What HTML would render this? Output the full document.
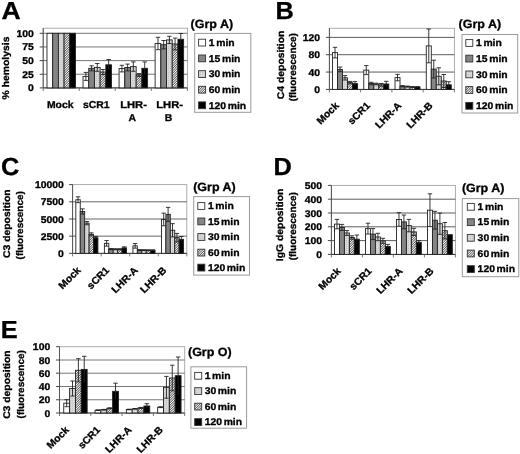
<!DOCTYPE html>
<html lang="en"><head><meta charset="utf-8"><title>Figure</title>
<style>html,body{margin:0;padding:0;background:#fff;}svg{display:block;filter:blur(0.35px);}text{font-family:"Liberation Sans", sans-serif;font-weight:bold;fill:#000;stroke:#000;stroke-width:0.3px;text-rendering:geometricPrecision;}</style></head><body>
<svg width="520" height="454" viewBox="0 0 520 454">
<defs><pattern id="hatch" patternUnits="userSpaceOnUse" width="1.7" height="1.7" patternTransform="rotate(-45)"><rect width="1.7" height="1.7" fill="#fff"/><rect width="1.7" height="0.72" fill="#3a3a3a"/></pattern><pattern id="dots" patternUnits="userSpaceOnUse" width="2" height="2"><rect width="2" height="2" fill="#d8d8d8"/><rect width="1" height="1" fill="#c4c4c4"/></pattern></defs>
<rect width="520" height="454" fill="#fff"/>
<g id="panel-A">
<rect x="43.20" y="28.20" width="144.20" height="59.70" fill="#fff" stroke="#a4a4a4" stroke-width="0.9"/>
<line x1="43.20" y1="33.30" x2="187.40" y2="33.30" stroke="#666" stroke-width="0.9"/>
<line x1="43.20" y1="46.95" x2="187.40" y2="46.95" stroke="#666" stroke-width="0.9"/>
<line x1="43.20" y1="60.60" x2="187.40" y2="60.60" stroke="#666" stroke-width="0.9"/>
<line x1="43.20" y1="74.25" x2="187.40" y2="74.25" stroke="#666" stroke-width="0.9"/>
<line x1="43.20" y1="28.20" x2="43.20" y2="87.90" stroke="#555" stroke-width="1"/>
<line x1="43.20" y1="87.90" x2="187.40" y2="87.90" stroke="#333" stroke-width="1"/>
<line x1="39.70" y1="33.30" x2="43.20" y2="33.30" stroke="#333" stroke-width="0.9"/>
<text transform="translate(33.90,36.80) scale(1.06,1)" font-size="9.8" text-anchor="end" >100</text>
<line x1="39.70" y1="46.95" x2="43.20" y2="46.95" stroke="#333" stroke-width="0.9"/>
<text transform="translate(33.90,50.45) scale(1.06,1)" font-size="9.8" text-anchor="end" >75</text>
<line x1="39.70" y1="60.60" x2="43.20" y2="60.60" stroke="#333" stroke-width="0.9"/>
<text transform="translate(33.90,64.10) scale(1.06,1)" font-size="9.8" text-anchor="end" >50</text>
<line x1="39.70" y1="74.25" x2="43.20" y2="74.25" stroke="#333" stroke-width="0.9"/>
<text transform="translate(33.90,77.75) scale(1.06,1)" font-size="9.8" text-anchor="end" >25</text>
<line x1="39.70" y1="87.90" x2="43.20" y2="87.90" stroke="#333" stroke-width="0.9"/>
<text transform="translate(33.90,91.40) scale(1.06,1)" font-size="9.8" text-anchor="end" >0</text>
<line x1="43.20" y1="87.90" x2="43.20" y2="90.90" stroke="#555" stroke-width="0.8"/>
<line x1="79.25" y1="87.90" x2="79.25" y2="90.90" stroke="#555" stroke-width="0.8"/>
<line x1="115.30" y1="87.90" x2="115.30" y2="90.90" stroke="#555" stroke-width="0.8"/>
<line x1="151.35" y1="87.90" x2="151.35" y2="90.90" stroke="#555" stroke-width="0.8"/>
<line x1="187.40" y1="87.90" x2="187.40" y2="90.90" stroke="#555" stroke-width="0.8"/>
<rect x="46.98" y="33.30" width="5.70" height="54.60" fill="#ffffff" stroke="#222" stroke-width="0.9"/>
<rect x="52.68" y="33.30" width="5.70" height="54.60" fill="#858585" stroke="#222" stroke-width="0.9"/>
<rect x="58.38" y="33.30" width="5.70" height="54.60" fill="url(#dots)" stroke="#222" stroke-width="0.9"/>
<rect x="64.08" y="33.30" width="5.70" height="54.60" fill="url(#hatch)" stroke="#222" stroke-width="0.9"/>
<rect x="69.78" y="33.30" width="5.70" height="54.60" fill="#000000" stroke="#222" stroke-width="0.9"/>
<rect x="83.03" y="76.40" width="5.70" height="11.50" fill="#ffffff" stroke="#222" stroke-width="0.9"/>
<rect x="88.73" y="68.30" width="5.70" height="19.60" fill="#858585" stroke="#222" stroke-width="0.9"/>
<rect x="94.43" y="67.40" width="5.70" height="20.50" fill="url(#dots)" stroke="#222" stroke-width="0.9"/>
<rect x="100.12" y="72.00" width="5.70" height="15.90" fill="url(#hatch)" stroke="#222" stroke-width="0.9"/>
<rect x="105.83" y="64.80" width="5.70" height="23.10" fill="#000000" stroke="#222" stroke-width="0.9"/>
<path d="M85.88 72.40V80.40M83.67 72.40H88.08" stroke="#222" stroke-width="0.9" fill="none"/>
<path d="M83.67 80.40H88.08" stroke="#222" stroke-width="0.9" fill="none"/>
<path d="M91.58 65.80V70.80M89.38 65.80H93.78" stroke="#222" stroke-width="0.9" fill="none"/>
<path d="M89.38 70.80H93.78" stroke="#222" stroke-width="0.9" fill="none"/>
<path d="M97.28 63.50V71.30M95.08 63.50H99.48" stroke="#222" stroke-width="0.9" fill="none"/>
<path d="M95.08 71.30H99.48" stroke="#222" stroke-width="0.9" fill="none"/>
<path d="M102.97 69.50V74.50M100.77 69.50H105.17" stroke="#222" stroke-width="0.9" fill="none"/>
<path d="M100.77 74.50H105.17" stroke="#222" stroke-width="0.9" fill="none"/>
<path d="M108.67 59.50V70.10M106.47 59.50H110.88" stroke="#222" stroke-width="0.9" fill="none"/>
<rect x="119.07" y="68.60" width="5.70" height="19.30" fill="#ffffff" stroke="#222" stroke-width="0.9"/>
<rect x="124.77" y="67.50" width="5.70" height="20.40" fill="#858585" stroke="#222" stroke-width="0.9"/>
<rect x="130.47" y="66.60" width="5.70" height="21.30" fill="url(#dots)" stroke="#222" stroke-width="0.9"/>
<rect x="136.17" y="75.00" width="5.70" height="12.90" fill="url(#hatch)" stroke="#222" stroke-width="0.9"/>
<rect x="141.88" y="68.30" width="5.70" height="19.60" fill="#000000" stroke="#222" stroke-width="0.9"/>
<path d="M121.92 65.30V71.90M119.72 65.30H124.12" stroke="#222" stroke-width="0.9" fill="none"/>
<path d="M119.72 71.90H124.12" stroke="#222" stroke-width="0.9" fill="none"/>
<path d="M127.62 64.10V70.90M125.42 64.10H129.82" stroke="#222" stroke-width="0.9" fill="none"/>
<path d="M125.42 70.90H129.82" stroke="#222" stroke-width="0.9" fill="none"/>
<path d="M133.32 61.90V71.30M131.12 61.90H135.52" stroke="#222" stroke-width="0.9" fill="none"/>
<path d="M131.12 71.30H135.52" stroke="#222" stroke-width="0.9" fill="none"/>
<path d="M139.02 73.60V76.40M136.82 73.60H141.22" stroke="#222" stroke-width="0.9" fill="none"/>
<path d="M136.82 76.40H141.22" stroke="#222" stroke-width="0.9" fill="none"/>
<path d="M144.72 61.90V74.70M142.53 61.90H146.92" stroke="#222" stroke-width="0.9" fill="none"/>
<rect x="155.12" y="43.50" width="5.70" height="44.40" fill="#ffffff" stroke="#222" stroke-width="0.9"/>
<rect x="160.82" y="44.70" width="5.70" height="43.20" fill="#858585" stroke="#222" stroke-width="0.9"/>
<rect x="166.53" y="39.90" width="5.70" height="48.00" fill="url(#dots)" stroke="#222" stroke-width="0.9"/>
<rect x="172.22" y="44.00" width="5.70" height="43.90" fill="url(#hatch)" stroke="#222" stroke-width="0.9"/>
<rect x="177.93" y="39.30" width="5.70" height="48.60" fill="#000000" stroke="#222" stroke-width="0.9"/>
<path d="M157.97 37.30V49.70M155.78 37.30H160.17" stroke="#222" stroke-width="0.9" fill="none"/>
<path d="M155.78 49.70H160.17" stroke="#222" stroke-width="0.9" fill="none"/>
<path d="M163.67 40.50V48.90M161.47 40.50H165.87" stroke="#222" stroke-width="0.9" fill="none"/>
<path d="M161.47 48.90H165.87" stroke="#222" stroke-width="0.9" fill="none"/>
<path d="M169.38 36.30V43.50M167.18 36.30H171.57" stroke="#222" stroke-width="0.9" fill="none"/>
<path d="M167.18 43.50H171.57" stroke="#222" stroke-width="0.9" fill="none"/>
<path d="M175.07 38.10V49.90M172.88 38.10H177.27" stroke="#222" stroke-width="0.9" fill="none"/>
<path d="M172.88 49.90H177.27" stroke="#222" stroke-width="0.9" fill="none"/>
<path d="M180.78 33.50V45.10M178.58 33.50H182.97" stroke="#222" stroke-width="0.9" fill="none"/>
<text transform="translate(60.23,107.60) scale(1.04,1)" font-size="10" text-anchor="middle" >Mock</text>
<text transform="translate(96.28,107.60) scale(1.04,1)" font-size="10" text-anchor="middle" >sCR1</text>
<text transform="translate(133.52,107.60) scale(1.12,1)" font-size="10" text-anchor="middle" >LHR-</text>
<text transform="translate(132.32,121.10) scale(1.04,1)" font-size="10" text-anchor="middle" >A</text>
<text transform="translate(169.57,107.60) scale(1.12,1)" font-size="10" text-anchor="middle" >LHR-</text>
<text transform="translate(168.38,121.10) scale(1.04,1)" font-size="10" text-anchor="middle" >B</text>
<text transform="translate(9.30,68.00) rotate(-90) scale(1.07,1)" font-size="9.7" text-anchor="middle" >% hemolysis</text>
<text transform="translate(1.40,19.30) scale(1.08,1)" font-size="24.6" text-anchor="start" >A</text>
<text transform="translate(190.60,28.00) scale(1.04,1)" font-size="12" text-anchor="start" >(Grp A)</text>
<rect x="194.70" y="33.40" width="56.10" height="78.90" fill="#fff" stroke="#9a9a9a" stroke-width="1"/>
<rect x="198.60" y="39.20" width="7" height="6.8" fill="#ffffff" stroke="#333" stroke-width="0.9"/>
<text transform="translate(208.80,45.80) scale(1.06,1)" font-size="9.8" text-anchor="start" word-spacing="-1.2">1 min</text>
<rect x="198.60" y="55.00" width="7" height="6.8" fill="#858585" stroke="#333" stroke-width="0.9"/>
<text transform="translate(208.80,61.60) scale(1.06,1)" font-size="9.8" text-anchor="start" word-spacing="-1.2">15 min</text>
<rect x="198.60" y="70.70" width="7" height="6.8" fill="url(#dots)" stroke="#333" stroke-width="0.9"/>
<text transform="translate(208.80,77.30) scale(1.06,1)" font-size="9.8" text-anchor="start" word-spacing="-1.2">30 min</text>
<rect x="198.60" y="86.30" width="7" height="6.8" fill="url(#hatch)" stroke="#333" stroke-width="0.9"/>
<text transform="translate(208.80,92.90) scale(1.06,1)" font-size="9.8" text-anchor="start" word-spacing="-1.2">60 min</text>
<rect x="198.60" y="101.90" width="7" height="6.8" fill="#000000" stroke="#333" stroke-width="0.9"/>
<text transform="translate(208.80,108.50) scale(1.06,1)" font-size="9.8" text-anchor="start" word-spacing="-1.2">120 min</text>
</g>
<g id="panel-B">
<rect x="329.40" y="28.30" width="125.00" height="61.10" fill="#fff" stroke="#a4a4a4" stroke-width="0.9"/>
<line x1="329.40" y1="37.40" x2="454.40" y2="37.40" stroke="#4a4a4a" stroke-width="0.9"/>
<line x1="329.40" y1="54.70" x2="454.40" y2="54.70" stroke="#4a4a4a" stroke-width="0.9"/>
<line x1="329.40" y1="72.05" x2="454.40" y2="72.05" stroke="#4a4a4a" stroke-width="0.9"/>
<line x1="329.40" y1="28.30" x2="329.40" y2="89.40" stroke="#555" stroke-width="1"/>
<line x1="329.40" y1="89.40" x2="454.40" y2="89.40" stroke="#333" stroke-width="1"/>
<line x1="325.90" y1="37.40" x2="329.40" y2="37.40" stroke="#333" stroke-width="0.9"/>
<text transform="translate(320.10,40.90) scale(1.06,1)" font-size="9.8" text-anchor="end" >120</text>
<line x1="325.90" y1="54.70" x2="329.40" y2="54.70" stroke="#333" stroke-width="0.9"/>
<text transform="translate(320.10,58.20) scale(1.06,1)" font-size="9.8" text-anchor="end" >80</text>
<line x1="325.90" y1="72.05" x2="329.40" y2="72.05" stroke="#333" stroke-width="0.9"/>
<text transform="translate(320.10,75.55) scale(1.06,1)" font-size="9.8" text-anchor="end" >40</text>
<line x1="325.90" y1="89.40" x2="329.40" y2="89.40" stroke="#333" stroke-width="0.9"/>
<text transform="translate(320.10,92.90) scale(1.06,1)" font-size="9.8" text-anchor="end" >0</text>
<line x1="329.40" y1="89.40" x2="329.40" y2="92.40" stroke="#555" stroke-width="0.8"/>
<line x1="360.65" y1="89.40" x2="360.65" y2="92.40" stroke="#555" stroke-width="0.8"/>
<line x1="391.90" y1="89.40" x2="391.90" y2="92.40" stroke="#555" stroke-width="0.8"/>
<line x1="423.15" y1="89.40" x2="423.15" y2="92.40" stroke="#555" stroke-width="0.8"/>
<line x1="454.40" y1="89.40" x2="454.40" y2="92.40" stroke="#555" stroke-width="0.8"/>
<rect x="332.52" y="52.60" width="5.00" height="36.80" fill="#ffffff" stroke="#222" stroke-width="0.9"/>
<rect x="337.52" y="69.40" width="5.00" height="20.00" fill="#858585" stroke="#222" stroke-width="0.9"/>
<rect x="342.52" y="77.80" width="5.00" height="11.60" fill="url(#dots)" stroke="#222" stroke-width="0.9"/>
<rect x="347.52" y="82.60" width="5.00" height="6.80" fill="url(#hatch)" stroke="#222" stroke-width="0.9"/>
<rect x="352.52" y="83.60" width="5.00" height="5.80" fill="#000000" stroke="#222" stroke-width="0.9"/>
<path d="M335.02 47.30V57.90M332.82 47.30H337.22" stroke="#222" stroke-width="0.9" fill="none"/>
<path d="M332.82 57.90H337.22" stroke="#222" stroke-width="0.9" fill="none"/>
<path d="M340.02 67.10V71.70M337.82 67.10H342.22" stroke="#222" stroke-width="0.9" fill="none"/>
<path d="M337.82 71.70H342.22" stroke="#222" stroke-width="0.9" fill="none"/>
<path d="M345.02 75.60V80.00M342.82 75.60H347.22" stroke="#222" stroke-width="0.9" fill="none"/>
<path d="M342.82 80.00H347.22" stroke="#222" stroke-width="0.9" fill="none"/>
<path d="M350.02 81.40V83.80M347.82 81.40H352.22" stroke="#222" stroke-width="0.9" fill="none"/>
<path d="M347.82 83.80H352.22" stroke="#222" stroke-width="0.9" fill="none"/>
<path d="M355.02 81.60V85.60M352.82 81.60H357.22" stroke="#222" stroke-width="0.9" fill="none"/>
<rect x="363.77" y="70.10" width="5.00" height="19.30" fill="#ffffff" stroke="#222" stroke-width="0.9"/>
<rect x="368.77" y="83.50" width="5.00" height="5.90" fill="#858585" stroke="#222" stroke-width="0.9"/>
<rect x="373.77" y="84.00" width="5.00" height="5.40" fill="url(#dots)" stroke="#222" stroke-width="0.9"/>
<rect x="378.77" y="84.80" width="5.00" height="4.60" fill="url(#hatch)" stroke="#222" stroke-width="0.9"/>
<rect x="383.77" y="84.00" width="5.00" height="5.40" fill="#000000" stroke="#222" stroke-width="0.9"/>
<path d="M366.27 65.60V74.60M364.07 65.60H368.47" stroke="#222" stroke-width="0.9" fill="none"/>
<path d="M364.07 74.60H368.47" stroke="#222" stroke-width="0.9" fill="none"/>
<path d="M371.27 82.30V84.70M369.07 82.30H373.47" stroke="#222" stroke-width="0.9" fill="none"/>
<path d="M369.07 84.70H373.47" stroke="#222" stroke-width="0.9" fill="none"/>
<path d="M376.27 83.20V84.80M374.07 83.20H378.47" stroke="#222" stroke-width="0.9" fill="none"/>
<path d="M374.07 84.80H378.47" stroke="#222" stroke-width="0.9" fill="none"/>
<path d="M381.27 83.50V86.10M379.07 83.50H383.47" stroke="#222" stroke-width="0.9" fill="none"/>
<path d="M379.07 86.10H383.47" stroke="#222" stroke-width="0.9" fill="none"/>
<path d="M386.27 81.30V86.70M384.07 81.30H388.47" stroke="#222" stroke-width="0.9" fill="none"/>
<rect x="395.02" y="77.60" width="5.00" height="11.80" fill="#ffffff" stroke="#222" stroke-width="0.9"/>
<rect x="400.02" y="86.20" width="5.00" height="3.20" fill="#858585" stroke="#222" stroke-width="0.9"/>
<rect x="405.02" y="86.60" width="5.00" height="2.80" fill="url(#dots)" stroke="#222" stroke-width="0.9"/>
<rect x="410.02" y="87.00" width="5.00" height="2.40" fill="url(#hatch)" stroke="#222" stroke-width="0.9"/>
<rect x="415.02" y="87.00" width="5.00" height="2.40" fill="#000000" stroke="#222" stroke-width="0.9"/>
<path d="M397.52 74.40V80.80M395.32 74.40H399.72" stroke="#222" stroke-width="0.9" fill="none"/>
<path d="M395.32 80.80H399.72" stroke="#222" stroke-width="0.9" fill="none"/>
<path d="M402.52 85.60V86.80M400.32 85.60H404.72" stroke="#222" stroke-width="0.9" fill="none"/>
<path d="M400.32 86.80H404.72" stroke="#222" stroke-width="0.9" fill="none"/>
<path d="M407.52 86.10V87.10M405.32 86.10H409.72" stroke="#222" stroke-width="0.9" fill="none"/>
<path d="M405.32 87.10H409.72" stroke="#222" stroke-width="0.9" fill="none"/>
<path d="M412.52 86.60V87.40M410.32 86.60H414.72" stroke="#222" stroke-width="0.9" fill="none"/>
<path d="M410.32 87.40H414.72" stroke="#222" stroke-width="0.9" fill="none"/>
<path d="M417.52 86.60V87.40M415.32 86.60H419.72" stroke="#222" stroke-width="0.9" fill="none"/>
<rect x="426.27" y="45.90" width="5.00" height="43.50" fill="#ffffff" stroke="#222" stroke-width="0.9"/>
<rect x="431.27" y="69.10" width="5.00" height="20.30" fill="#858585" stroke="#222" stroke-width="0.9"/>
<rect x="436.27" y="76.30" width="5.00" height="13.10" fill="url(#dots)" stroke="#222" stroke-width="0.9"/>
<rect x="441.27" y="81.00" width="5.00" height="8.40" fill="url(#hatch)" stroke="#222" stroke-width="0.9"/>
<rect x="446.27" y="84.80" width="5.00" height="4.60" fill="#000000" stroke="#222" stroke-width="0.9"/>
<path d="M428.77 29.00V62.80M426.57 29.00H430.97" stroke="#222" stroke-width="0.9" fill="none"/>
<path d="M426.57 62.80H430.97" stroke="#222" stroke-width="0.9" fill="none"/>
<path d="M433.77 60.20V78.00M431.57 60.20H435.97" stroke="#222" stroke-width="0.9" fill="none"/>
<path d="M431.57 78.00H435.97" stroke="#222" stroke-width="0.9" fill="none"/>
<path d="M438.77 67.80V84.80M436.57 67.80H440.97" stroke="#222" stroke-width="0.9" fill="none"/>
<path d="M436.57 84.80H440.97" stroke="#222" stroke-width="0.9" fill="none"/>
<path d="M443.77 74.50V87.50M441.57 74.50H445.97" stroke="#222" stroke-width="0.9" fill="none"/>
<path d="M441.57 87.50H445.97" stroke="#222" stroke-width="0.9" fill="none"/>
<path d="M448.77 81.70V87.90M446.57 81.70H450.97" stroke="#222" stroke-width="0.9" fill="none"/>
<text transform="translate(339.52,106.20) rotate(-45) scale(1.04,1)" font-size="10" text-anchor="end" >Mock</text>
<text transform="translate(370.77,106.20) rotate(-45) scale(1.04,1)" font-size="10" text-anchor="end" >sCR1</text>
<text transform="translate(402.02,106.20) rotate(-45) scale(1.04,1)" font-size="10" text-anchor="end" >LHR-A</text>
<text transform="translate(433.27,106.20) rotate(-45) scale(1.04,1)" font-size="10" text-anchor="end" >LHR-B</text>
<text transform="translate(283.60,64.90) rotate(-90) scale(1.07,1)" font-size="9.7" text-anchor="middle" >C4 deposition</text>
<text transform="translate(296.40,67.20) rotate(-90) scale(1.03,1)" font-size="9.7" text-anchor="middle" >(fluorescence)</text>
<text transform="translate(275.50,18.60) scale(1.03,1)" font-size="24.6" text-anchor="start" >B</text>
<text transform="translate(458.60,27.90) scale(1.04,1)" font-size="12" text-anchor="start" >(Grp A)</text>
<rect x="462.00" y="34.50" width="55.70" height="78.50" fill="#fff" stroke="#9a9a9a" stroke-width="1"/>
<rect x="465.80" y="39.60" width="7" height="6.8" fill="#ffffff" stroke="#333" stroke-width="0.9"/>
<text transform="translate(476.00,46.20) scale(1.06,1)" font-size="9.8" text-anchor="start" word-spacing="-1.2">1 min</text>
<rect x="465.80" y="55.20" width="7" height="6.8" fill="#858585" stroke="#333" stroke-width="0.9"/>
<text transform="translate(476.00,61.80) scale(1.06,1)" font-size="9.8" text-anchor="start" word-spacing="-1.2">15 min</text>
<rect x="465.80" y="71.00" width="7" height="6.8" fill="url(#dots)" stroke="#333" stroke-width="0.9"/>
<text transform="translate(476.00,77.60) scale(1.06,1)" font-size="9.8" text-anchor="start" word-spacing="-1.2">30 min</text>
<rect x="465.80" y="86.60" width="7" height="6.8" fill="url(#hatch)" stroke="#333" stroke-width="0.9"/>
<text transform="translate(476.00,93.20) scale(1.06,1)" font-size="9.8" text-anchor="start" word-spacing="-1.2">60 min</text>
<rect x="465.80" y="102.40" width="7" height="6.8" fill="#000000" stroke="#333" stroke-width="0.9"/>
<text transform="translate(476.00,109.00) scale(1.06,1)" font-size="9.8" text-anchor="start" word-spacing="-1.2">120 min</text>
</g>
<g id="panel-C">
<rect x="72.60" y="184.60" width="114.20" height="68.75" fill="#fff" stroke="#a4a4a4" stroke-width="0.9"/>
<line x1="72.60" y1="201.80" x2="186.80" y2="201.80" stroke="#555" stroke-width="0.9"/>
<line x1="72.60" y1="219.00" x2="186.80" y2="219.00" stroke="#555" stroke-width="0.9"/>
<line x1="72.60" y1="236.15" x2="186.80" y2="236.15" stroke="#555" stroke-width="0.9"/>
<line x1="72.60" y1="184.60" x2="72.60" y2="253.35" stroke="#555" stroke-width="1"/>
<line x1="72.60" y1="253.35" x2="186.80" y2="253.35" stroke="#333" stroke-width="1"/>
<line x1="69.10" y1="184.60" x2="72.60" y2="184.60" stroke="#333" stroke-width="0.9"/>
<text transform="translate(63.90,188.10) scale(1.06,1)" font-size="9.8" text-anchor="end" >10000</text>
<line x1="69.10" y1="201.80" x2="72.60" y2="201.80" stroke="#333" stroke-width="0.9"/>
<text transform="translate(63.90,205.30) scale(1.06,1)" font-size="9.8" text-anchor="end" >7500</text>
<line x1="69.10" y1="219.00" x2="72.60" y2="219.00" stroke="#333" stroke-width="0.9"/>
<text transform="translate(63.90,222.50) scale(1.06,1)" font-size="9.8" text-anchor="end" >5000</text>
<line x1="69.10" y1="236.15" x2="72.60" y2="236.15" stroke="#333" stroke-width="0.9"/>
<text transform="translate(63.90,239.65) scale(1.06,1)" font-size="9.8" text-anchor="end" >2500</text>
<line x1="69.10" y1="253.35" x2="72.60" y2="253.35" stroke="#333" stroke-width="0.9"/>
<text transform="translate(63.90,256.85) scale(1.06,1)" font-size="9.8" text-anchor="end" >0</text>
<line x1="72.60" y1="253.35" x2="72.60" y2="256.35" stroke="#555" stroke-width="0.8"/>
<line x1="101.15" y1="253.35" x2="101.15" y2="256.35" stroke="#555" stroke-width="0.8"/>
<line x1="129.70" y1="253.35" x2="129.70" y2="256.35" stroke="#555" stroke-width="0.8"/>
<line x1="158.25" y1="253.35" x2="158.25" y2="256.35" stroke="#555" stroke-width="0.8"/>
<line x1="186.80" y1="253.35" x2="186.80" y2="256.35" stroke="#555" stroke-width="0.8"/>
<rect x="75.83" y="199.75" width="4.42" height="53.60" fill="#ffffff" stroke="#222" stroke-width="0.9"/>
<rect x="80.25" y="211.45" width="4.42" height="41.90" fill="#858585" stroke="#222" stroke-width="0.9"/>
<rect x="84.67" y="223.15" width="4.42" height="30.20" fill="url(#dots)" stroke="#222" stroke-width="0.9"/>
<rect x="89.09" y="234.35" width="4.42" height="19.00" fill="url(#hatch)" stroke="#222" stroke-width="0.9"/>
<rect x="93.50" y="237.75" width="4.42" height="15.60" fill="#000000" stroke="#222" stroke-width="0.9"/>
<path d="M78.03 196.85V202.65M75.83 196.85H80.23" stroke="#222" stroke-width="0.9" fill="none"/>
<path d="M75.83 202.65H80.23" stroke="#222" stroke-width="0.9" fill="none"/>
<path d="M82.45 208.85V214.05M80.25 208.85H84.66" stroke="#222" stroke-width="0.9" fill="none"/>
<path d="M80.25 214.05H84.66" stroke="#222" stroke-width="0.9" fill="none"/>
<path d="M86.88 221.55V224.75M84.67 221.55H89.08" stroke="#222" stroke-width="0.9" fill="none"/>
<path d="M84.67 224.75H89.08" stroke="#222" stroke-width="0.9" fill="none"/>
<path d="M91.30 232.85V235.85M89.09 232.85H93.50" stroke="#222" stroke-width="0.9" fill="none"/>
<path d="M89.09 235.85H93.50" stroke="#222" stroke-width="0.9" fill="none"/>
<path d="M95.71 236.45V239.05M93.51 236.45H97.91" stroke="#222" stroke-width="0.9" fill="none"/>
<rect x="104.38" y="243.35" width="4.42" height="10.00" fill="#ffffff" stroke="#222" stroke-width="0.9"/>
<rect x="108.80" y="249.05" width="4.42" height="4.30" fill="#858585" stroke="#222" stroke-width="0.9"/>
<rect x="113.22" y="249.25" width="4.42" height="4.10" fill="url(#dots)" stroke="#222" stroke-width="0.9"/>
<rect x="117.64" y="249.25" width="4.42" height="4.10" fill="url(#hatch)" stroke="#222" stroke-width="0.9"/>
<rect x="122.06" y="247.85" width="4.42" height="5.50" fill="#000000" stroke="#222" stroke-width="0.9"/>
<path d="M106.58 240.55V246.15M104.38 240.55H108.78" stroke="#222" stroke-width="0.9" fill="none"/>
<path d="M104.38 246.15H108.78" stroke="#222" stroke-width="0.9" fill="none"/>
<path d="M111.00 248.55V249.55M108.80 248.55H113.20" stroke="#222" stroke-width="0.9" fill="none"/>
<path d="M108.80 249.55H113.20" stroke="#222" stroke-width="0.9" fill="none"/>
<path d="M115.42 248.75V249.75M113.22 248.75H117.62" stroke="#222" stroke-width="0.9" fill="none"/>
<path d="M113.22 249.75H117.62" stroke="#222" stroke-width="0.9" fill="none"/>
<path d="M119.84 248.75V249.75M117.64 248.75H122.05" stroke="#222" stroke-width="0.9" fill="none"/>
<path d="M117.64 249.75H122.05" stroke="#222" stroke-width="0.9" fill="none"/>
<path d="M124.27 246.85V248.85M122.06 246.85H126.47" stroke="#222" stroke-width="0.9" fill="none"/>
<rect x="132.93" y="245.85" width="4.42" height="7.50" fill="#ffffff" stroke="#222" stroke-width="0.9"/>
<rect x="137.34" y="250.05" width="4.42" height="3.30" fill="#858585" stroke="#222" stroke-width="0.9"/>
<rect x="141.77" y="250.15" width="4.42" height="3.20" fill="url(#dots)" stroke="#222" stroke-width="0.9"/>
<rect x="146.19" y="250.25" width="4.42" height="3.10" fill="url(#hatch)" stroke="#222" stroke-width="0.9"/>
<rect x="150.61" y="250.25" width="4.42" height="3.10" fill="#000000" stroke="#222" stroke-width="0.9"/>
<path d="M135.14 243.55V248.15M132.94 243.55H137.34" stroke="#222" stroke-width="0.9" fill="none"/>
<path d="M132.94 248.15H137.34" stroke="#222" stroke-width="0.9" fill="none"/>
<path d="M139.56 249.65V250.45M137.36 249.65H141.75" stroke="#222" stroke-width="0.9" fill="none"/>
<path d="M137.36 250.45H141.75" stroke="#222" stroke-width="0.9" fill="none"/>
<path d="M143.98 249.75V250.55M141.78 249.75H146.18" stroke="#222" stroke-width="0.9" fill="none"/>
<path d="M141.78 250.55H146.18" stroke="#222" stroke-width="0.9" fill="none"/>
<path d="M148.40 249.85V250.65M146.20 249.85H150.59" stroke="#222" stroke-width="0.9" fill="none"/>
<path d="M146.20 250.65H150.59" stroke="#222" stroke-width="0.9" fill="none"/>
<path d="M152.82 249.85V250.65M150.62 249.85H155.02" stroke="#222" stroke-width="0.9" fill="none"/>
<rect x="161.47" y="219.45" width="4.42" height="33.90" fill="#ffffff" stroke="#222" stroke-width="0.9"/>
<rect x="165.89" y="214.35" width="4.42" height="39.00" fill="#858585" stroke="#222" stroke-width="0.9"/>
<rect x="170.31" y="230.25" width="4.42" height="23.10" fill="url(#dots)" stroke="#222" stroke-width="0.9"/>
<rect x="174.73" y="237.65" width="4.42" height="15.70" fill="url(#hatch)" stroke="#222" stroke-width="0.9"/>
<rect x="179.16" y="239.35" width="4.42" height="14.00" fill="#000000" stroke="#222" stroke-width="0.9"/>
<path d="M163.69 213.15V225.75M161.49 213.15H165.88" stroke="#222" stroke-width="0.9" fill="none"/>
<path d="M161.49 225.75H165.88" stroke="#222" stroke-width="0.9" fill="none"/>
<path d="M168.10 207.35V221.35M165.91 207.35H170.30" stroke="#222" stroke-width="0.9" fill="none"/>
<path d="M165.91 221.35H170.30" stroke="#222" stroke-width="0.9" fill="none"/>
<path d="M172.53 223.65V236.85M170.33 223.65H174.72" stroke="#222" stroke-width="0.9" fill="none"/>
<path d="M170.33 236.85H174.72" stroke="#222" stroke-width="0.9" fill="none"/>
<path d="M176.94 233.45V241.85M174.75 233.45H179.14" stroke="#222" stroke-width="0.9" fill="none"/>
<path d="M174.75 241.85H179.14" stroke="#222" stroke-width="0.9" fill="none"/>
<path d="M181.37 236.55V242.15M179.17 236.55H183.56" stroke="#222" stroke-width="0.9" fill="none"/>
<text transform="translate(81.38,270.85) rotate(-45) scale(1.04,1)" font-size="10" text-anchor="end" >Mock</text>
<text transform="translate(109.92,270.85) rotate(-45) scale(1.04,1)" font-size="10" text-anchor="end" >sCR1</text>
<text transform="translate(138.48,270.85) rotate(-45) scale(1.04,1)" font-size="10" text-anchor="end" >LHR-A</text>
<text transform="translate(167.03,270.85) rotate(-45) scale(1.04,1)" font-size="10" text-anchor="end" >LHR-B</text>
<text transform="translate(9.80,223.70) rotate(-90) scale(1.07,1)" font-size="9.7" text-anchor="middle" >C3 deposition</text>
<text transform="translate(23.40,225.30) rotate(-90) scale(1.03,1)" font-size="9.7" text-anchor="middle" >(fluorescence)</text>
<text transform="translate(1.00,175.30) scale(1.03,1)" font-size="24.6" text-anchor="start" >C</text>
<text transform="translate(193.20,190.90) scale(1.04,1)" font-size="12" text-anchor="start" >(Grp A)</text>
<rect x="193.70" y="196.60" width="55.80" height="78.50" fill="#fff" stroke="#9a9a9a" stroke-width="1"/>
<rect x="197.80" y="202.60" width="7" height="6.8" fill="#ffffff" stroke="#333" stroke-width="0.9"/>
<text transform="translate(207.90,209.20) scale(1.06,1)" font-size="9.8" text-anchor="start" word-spacing="-1.2">1 min</text>
<rect x="197.80" y="218.00" width="7" height="6.8" fill="#858585" stroke="#333" stroke-width="0.9"/>
<text transform="translate(207.90,224.60) scale(1.06,1)" font-size="9.8" text-anchor="start" word-spacing="-1.2">15 min</text>
<rect x="197.80" y="233.60" width="7" height="6.8" fill="url(#dots)" stroke="#333" stroke-width="0.9"/>
<text transform="translate(207.90,240.20) scale(1.06,1)" font-size="9.8" text-anchor="start" word-spacing="-1.2">30 min</text>
<rect x="197.80" y="249.20" width="7" height="6.8" fill="url(#hatch)" stroke="#333" stroke-width="0.9"/>
<text transform="translate(207.90,255.80) scale(1.06,1)" font-size="9.8" text-anchor="start" word-spacing="-1.2">60 min</text>
<rect x="197.80" y="264.20" width="7" height="6.8" fill="#000000" stroke="#333" stroke-width="0.9"/>
<text transform="translate(207.90,270.80) scale(1.06,1)" font-size="9.8" text-anchor="start" word-spacing="-1.2">120 min</text>
</g>
<g id="panel-D">
<rect x="331.40" y="185.40" width="124.00" height="69.00" fill="#fff" stroke="#a4a4a4" stroke-width="0.9"/>
<line x1="331.40" y1="199.20" x2="455.40" y2="199.20" stroke="#4a4a4a" stroke-width="0.9"/>
<line x1="331.40" y1="213.00" x2="455.40" y2="213.00" stroke="#4a4a4a" stroke-width="0.9"/>
<line x1="331.40" y1="226.80" x2="455.40" y2="226.80" stroke="#4a4a4a" stroke-width="0.9"/>
<line x1="331.40" y1="240.60" x2="455.40" y2="240.60" stroke="#4a4a4a" stroke-width="0.9"/>
<line x1="331.40" y1="185.40" x2="331.40" y2="254.40" stroke="#555" stroke-width="1"/>
<line x1="331.40" y1="254.40" x2="455.40" y2="254.40" stroke="#333" stroke-width="1"/>
<line x1="327.90" y1="185.40" x2="331.40" y2="185.40" stroke="#333" stroke-width="0.9"/>
<text transform="translate(322.10,188.90) scale(1.06,1)" font-size="9.8" text-anchor="end" >500</text>
<line x1="327.90" y1="199.20" x2="331.40" y2="199.20" stroke="#333" stroke-width="0.9"/>
<text transform="translate(322.10,202.70) scale(1.06,1)" font-size="9.8" text-anchor="end" >400</text>
<line x1="327.90" y1="213.00" x2="331.40" y2="213.00" stroke="#333" stroke-width="0.9"/>
<text transform="translate(322.10,216.50) scale(1.06,1)" font-size="9.8" text-anchor="end" >300</text>
<line x1="327.90" y1="226.80" x2="331.40" y2="226.80" stroke="#333" stroke-width="0.9"/>
<text transform="translate(322.10,230.30) scale(1.06,1)" font-size="9.8" text-anchor="end" >200</text>
<line x1="327.90" y1="240.60" x2="331.40" y2="240.60" stroke="#333" stroke-width="0.9"/>
<text transform="translate(322.10,244.10) scale(1.06,1)" font-size="9.8" text-anchor="end" >100</text>
<line x1="327.90" y1="254.40" x2="331.40" y2="254.40" stroke="#333" stroke-width="0.9"/>
<text transform="translate(322.10,257.90) scale(1.06,1)" font-size="9.8" text-anchor="end" >0</text>
<line x1="331.40" y1="254.40" x2="331.40" y2="257.40" stroke="#555" stroke-width="0.8"/>
<line x1="362.40" y1="254.40" x2="362.40" y2="257.40" stroke="#555" stroke-width="0.8"/>
<line x1="393.40" y1="254.40" x2="393.40" y2="257.40" stroke="#555" stroke-width="0.8"/>
<line x1="424.40" y1="254.40" x2="424.40" y2="257.40" stroke="#555" stroke-width="0.8"/>
<line x1="455.40" y1="254.40" x2="455.40" y2="257.40" stroke="#555" stroke-width="0.8"/>
<rect x="334.47" y="224.10" width="4.97" height="30.30" fill="#ffffff" stroke="#222" stroke-width="0.9"/>
<rect x="339.44" y="227.40" width="4.97" height="27.00" fill="#858585" stroke="#222" stroke-width="0.9"/>
<rect x="344.41" y="233.00" width="4.97" height="21.40" fill="url(#dots)" stroke="#222" stroke-width="0.9"/>
<rect x="349.38" y="237.50" width="4.97" height="16.90" fill="url(#hatch)" stroke="#222" stroke-width="0.9"/>
<rect x="354.35" y="239.20" width="4.97" height="15.20" fill="#000000" stroke="#222" stroke-width="0.9"/>
<path d="M336.96 219.40V228.80M334.76 219.40H339.16" stroke="#222" stroke-width="0.9" fill="none"/>
<path d="M334.76 228.80H339.16" stroke="#222" stroke-width="0.9" fill="none"/>
<path d="M341.93 224.40V230.40M339.73 224.40H344.13" stroke="#222" stroke-width="0.9" fill="none"/>
<path d="M339.73 230.40H344.13" stroke="#222" stroke-width="0.9" fill="none"/>
<path d="M346.90 230.60V235.40M344.70 230.60H349.10" stroke="#222" stroke-width="0.9" fill="none"/>
<path d="M344.70 235.40H349.10" stroke="#222" stroke-width="0.9" fill="none"/>
<path d="M351.87 235.80V239.20M349.67 235.80H354.07" stroke="#222" stroke-width="0.9" fill="none"/>
<path d="M349.67 239.20H354.07" stroke="#222" stroke-width="0.9" fill="none"/>
<path d="M356.84 235.00V243.40M354.64 235.00H359.04" stroke="#222" stroke-width="0.9" fill="none"/>
<rect x="365.47" y="228.60" width="4.97" height="25.80" fill="#ffffff" stroke="#222" stroke-width="0.9"/>
<rect x="370.44" y="234.10" width="4.97" height="20.30" fill="#858585" stroke="#222" stroke-width="0.9"/>
<rect x="375.41" y="237.00" width="4.97" height="17.40" fill="url(#dots)" stroke="#222" stroke-width="0.9"/>
<rect x="380.38" y="240.80" width="4.97" height="13.60" fill="url(#hatch)" stroke="#222" stroke-width="0.9"/>
<rect x="385.35" y="246.50" width="4.97" height="7.90" fill="#000000" stroke="#222" stroke-width="0.9"/>
<path d="M367.96 223.20V234.00M365.76 223.20H370.16" stroke="#222" stroke-width="0.9" fill="none"/>
<path d="M365.76 234.00H370.16" stroke="#222" stroke-width="0.9" fill="none"/>
<path d="M372.93 228.60V239.60M370.73 228.60H375.13" stroke="#222" stroke-width="0.9" fill="none"/>
<path d="M370.73 239.60H375.13" stroke="#222" stroke-width="0.9" fill="none"/>
<path d="M377.90 233.30V240.70M375.70 233.30H380.10" stroke="#222" stroke-width="0.9" fill="none"/>
<path d="M375.70 240.70H380.10" stroke="#222" stroke-width="0.9" fill="none"/>
<path d="M382.87 238.30V243.30M380.67 238.30H385.07" stroke="#222" stroke-width="0.9" fill="none"/>
<path d="M380.67 243.30H385.07" stroke="#222" stroke-width="0.9" fill="none"/>
<path d="M387.84 244.40V248.60M385.64 244.40H390.04" stroke="#222" stroke-width="0.9" fill="none"/>
<rect x="396.47" y="219.50" width="4.97" height="34.90" fill="#ffffff" stroke="#222" stroke-width="0.9"/>
<rect x="401.44" y="221.90" width="4.97" height="32.50" fill="#858585" stroke="#222" stroke-width="0.9"/>
<rect x="406.41" y="225.60" width="4.97" height="28.80" fill="url(#dots)" stroke="#222" stroke-width="0.9"/>
<rect x="411.38" y="231.90" width="4.97" height="22.50" fill="url(#hatch)" stroke="#222" stroke-width="0.9"/>
<rect x="416.35" y="242.40" width="4.97" height="12.00" fill="#000000" stroke="#222" stroke-width="0.9"/>
<path d="M398.96 212.70V226.30M396.76 212.70H401.16" stroke="#222" stroke-width="0.9" fill="none"/>
<path d="M396.76 226.30H401.16" stroke="#222" stroke-width="0.9" fill="none"/>
<path d="M403.93 215.00V228.80M401.73 215.00H406.13" stroke="#222" stroke-width="0.9" fill="none"/>
<path d="M401.73 228.80H406.13" stroke="#222" stroke-width="0.9" fill="none"/>
<path d="M408.90 219.40V231.80M406.70 219.40H411.10" stroke="#222" stroke-width="0.9" fill="none"/>
<path d="M406.70 231.80H411.10" stroke="#222" stroke-width="0.9" fill="none"/>
<path d="M413.87 228.30V235.50M411.67 228.30H416.07" stroke="#222" stroke-width="0.9" fill="none"/>
<path d="M411.67 235.50H416.07" stroke="#222" stroke-width="0.9" fill="none"/>
<path d="M418.84 240.70V244.10M416.64 240.70H421.04" stroke="#222" stroke-width="0.9" fill="none"/>
<rect x="427.47" y="210.20" width="4.97" height="44.20" fill="#ffffff" stroke="#222" stroke-width="0.9"/>
<rect x="432.44" y="220.20" width="4.97" height="34.20" fill="#858585" stroke="#222" stroke-width="0.9"/>
<rect x="437.41" y="223.70" width="4.97" height="30.70" fill="url(#dots)" stroke="#222" stroke-width="0.9"/>
<rect x="442.38" y="230.70" width="4.97" height="23.70" fill="url(#hatch)" stroke="#222" stroke-width="0.9"/>
<rect x="447.35" y="234.70" width="4.97" height="19.70" fill="#000000" stroke="#222" stroke-width="0.9"/>
<path d="M429.96 193.80V226.60M427.76 193.80H432.16" stroke="#222" stroke-width="0.9" fill="none"/>
<path d="M427.76 226.60H432.16" stroke="#222" stroke-width="0.9" fill="none"/>
<path d="M434.93 211.30V229.10M432.73 211.30H437.13" stroke="#222" stroke-width="0.9" fill="none"/>
<path d="M432.73 229.10H437.13" stroke="#222" stroke-width="0.9" fill="none"/>
<path d="M439.90 213.10V234.30M437.70 213.10H442.10" stroke="#222" stroke-width="0.9" fill="none"/>
<path d="M437.70 234.30H442.10" stroke="#222" stroke-width="0.9" fill="none"/>
<path d="M444.87 222.50V238.90M442.67 222.50H447.07" stroke="#222" stroke-width="0.9" fill="none"/>
<path d="M442.67 238.90H447.07" stroke="#222" stroke-width="0.9" fill="none"/>
<text transform="translate(341.40,271.70) rotate(-45) scale(1.04,1)" font-size="10" text-anchor="end" >Mock</text>
<text transform="translate(372.40,271.70) rotate(-45) scale(1.04,1)" font-size="10" text-anchor="end" >sCR1</text>
<text transform="translate(403.40,271.70) rotate(-45) scale(1.04,1)" font-size="10" text-anchor="end" >LHR-A</text>
<text transform="translate(434.40,271.70) rotate(-45) scale(1.04,1)" font-size="10" text-anchor="end" >LHR-B</text>
<text transform="translate(283.30,224.90) rotate(-90) scale(1.07,1)" font-size="9.7" text-anchor="middle" >IgG deposition</text>
<text transform="translate(296.40,226.20) rotate(-90) scale(1.03,1)" font-size="9.7" text-anchor="middle" >(fluorescence)</text>
<text transform="translate(273.40,175.40) scale(1.03,1)" font-size="24.6" text-anchor="start" >D</text>
<text transform="translate(461.90,192.30) scale(1.04,1)" font-size="12" text-anchor="start" >(Grp A)</text>
<rect x="462.30" y="198.60" width="56.50" height="78.10" fill="#fff" stroke="#9a9a9a" stroke-width="1"/>
<rect x="467.30" y="203.40" width="7" height="6.8" fill="#ffffff" stroke="#333" stroke-width="0.9"/>
<text transform="translate(477.60,210.00) scale(1.06,1)" font-size="9.8" text-anchor="start" word-spacing="-1.2">1 min</text>
<rect x="467.30" y="218.80" width="7" height="6.8" fill="#858585" stroke="#333" stroke-width="0.9"/>
<text transform="translate(477.60,225.40) scale(1.06,1)" font-size="9.8" text-anchor="start" word-spacing="-1.2">15 min</text>
<rect x="467.30" y="234.40" width="7" height="6.8" fill="url(#dots)" stroke="#333" stroke-width="0.9"/>
<text transform="translate(477.60,241.00) scale(1.06,1)" font-size="9.8" text-anchor="start" word-spacing="-1.2">30 min</text>
<rect x="467.30" y="250.10" width="7" height="6.8" fill="url(#hatch)" stroke="#333" stroke-width="0.9"/>
<text transform="translate(477.60,256.70) scale(1.06,1)" font-size="9.8" text-anchor="start" word-spacing="-1.2">60 min</text>
<rect x="467.30" y="265.70" width="7" height="6.8" fill="#000000" stroke="#333" stroke-width="0.9"/>
<text transform="translate(477.60,272.30) scale(1.06,1)" font-size="9.8" text-anchor="start" word-spacing="-1.2">120 min</text>
</g>
<g id="panel-E">
<rect x="59.50" y="346.70" width="125.20" height="66.30" fill="#fff" stroke="#a4a4a4" stroke-width="0.9"/>
<line x1="59.50" y1="360.00" x2="184.70" y2="360.00" stroke="#6a6a6a" stroke-width="0.9"/>
<line x1="59.50" y1="373.20" x2="184.70" y2="373.20" stroke="#6a6a6a" stroke-width="0.9"/>
<line x1="59.50" y1="386.50" x2="184.70" y2="386.50" stroke="#6a6a6a" stroke-width="0.9"/>
<line x1="59.50" y1="399.75" x2="184.70" y2="399.75" stroke="#6a6a6a" stroke-width="0.9"/>
<line x1="59.50" y1="346.70" x2="59.50" y2="413.00" stroke="#555" stroke-width="1"/>
<line x1="59.50" y1="413.00" x2="184.70" y2="413.00" stroke="#333" stroke-width="1"/>
<line x1="56.00" y1="346.70" x2="59.50" y2="346.70" stroke="#333" stroke-width="0.9"/>
<text transform="translate(50.20,350.20) scale(1.06,1)" font-size="9.8" text-anchor="end" >100</text>
<line x1="56.00" y1="360.00" x2="59.50" y2="360.00" stroke="#333" stroke-width="0.9"/>
<text transform="translate(50.20,363.50) scale(1.06,1)" font-size="9.8" text-anchor="end" >80</text>
<line x1="56.00" y1="373.20" x2="59.50" y2="373.20" stroke="#333" stroke-width="0.9"/>
<text transform="translate(50.20,376.70) scale(1.06,1)" font-size="9.8" text-anchor="end" >60</text>
<line x1="56.00" y1="386.50" x2="59.50" y2="386.50" stroke="#333" stroke-width="0.9"/>
<text transform="translate(50.20,390.00) scale(1.06,1)" font-size="9.8" text-anchor="end" >40</text>
<line x1="56.00" y1="399.75" x2="59.50" y2="399.75" stroke="#333" stroke-width="0.9"/>
<text transform="translate(50.20,403.25) scale(1.06,1)" font-size="9.8" text-anchor="end" >20</text>
<line x1="56.00" y1="413.00" x2="59.50" y2="413.00" stroke="#333" stroke-width="0.9"/>
<text transform="translate(50.20,416.50) scale(1.06,1)" font-size="9.8" text-anchor="end" >0</text>
<line x1="59.50" y1="413.00" x2="59.50" y2="416.00" stroke="#555" stroke-width="0.8"/>
<line x1="90.80" y1="413.00" x2="90.80" y2="416.00" stroke="#555" stroke-width="0.8"/>
<line x1="122.10" y1="413.00" x2="122.10" y2="416.00" stroke="#555" stroke-width="0.8"/>
<line x1="153.40" y1="413.00" x2="153.40" y2="416.00" stroke="#555" stroke-width="0.8"/>
<line x1="184.70" y1="413.00" x2="184.70" y2="416.00" stroke="#555" stroke-width="0.8"/>
<rect x="63.75" y="403.20" width="5.85" height="9.80" fill="#ffffff" stroke="#222" stroke-width="0.9"/>
<rect x="69.60" y="388.50" width="5.85" height="24.50" fill="url(#dots)" stroke="#222" stroke-width="0.9"/>
<rect x="75.45" y="370.30" width="5.85" height="42.70" fill="url(#hatch)" stroke="#222" stroke-width="0.9"/>
<rect x="81.30" y="369.40" width="5.85" height="43.60" fill="#000000" stroke="#222" stroke-width="0.9"/>
<path d="M66.67 399.70V406.70M64.47 399.70H68.88" stroke="#222" stroke-width="0.9" fill="none"/>
<path d="M64.47 406.70H68.88" stroke="#222" stroke-width="0.9" fill="none"/>
<path d="M72.52 381.00V396.00M70.32 381.00H74.72" stroke="#222" stroke-width="0.9" fill="none"/>
<path d="M70.32 396.00H74.72" stroke="#222" stroke-width="0.9" fill="none"/>
<path d="M78.38 358.70V381.90M76.17 358.70H80.58" stroke="#222" stroke-width="0.9" fill="none"/>
<path d="M76.17 381.90H80.58" stroke="#222" stroke-width="0.9" fill="none"/>
<path d="M84.22 356.30V382.50M82.02 356.30H86.42" stroke="#222" stroke-width="0.9" fill="none"/>
<rect x="95.05" y="410.20" width="5.85" height="2.80" fill="#ffffff" stroke="#222" stroke-width="0.9"/>
<rect x="100.90" y="409.70" width="5.85" height="3.30" fill="url(#dots)" stroke="#222" stroke-width="0.9"/>
<rect x="106.75" y="408.30" width="5.85" height="4.70" fill="url(#hatch)" stroke="#222" stroke-width="0.9"/>
<rect x="112.60" y="391.30" width="5.85" height="21.70" fill="#000000" stroke="#222" stroke-width="0.9"/>
<path d="M97.97 409.90V410.50M95.77 409.90H100.17" stroke="#222" stroke-width="0.9" fill="none"/>
<path d="M95.77 410.50H100.17" stroke="#222" stroke-width="0.9" fill="none"/>
<path d="M103.82 409.40V410.00M101.62 409.40H106.02" stroke="#222" stroke-width="0.9" fill="none"/>
<path d="M101.62 410.00H106.02" stroke="#222" stroke-width="0.9" fill="none"/>
<path d="M109.67 407.80V408.80M107.47 407.80H111.87" stroke="#222" stroke-width="0.9" fill="none"/>
<path d="M107.47 408.80H111.87" stroke="#222" stroke-width="0.9" fill="none"/>
<path d="M115.52 383.20V399.40M113.32 383.20H117.72" stroke="#222" stroke-width="0.9" fill="none"/>
<rect x="126.35" y="409.50" width="5.85" height="3.50" fill="#ffffff" stroke="#222" stroke-width="0.9"/>
<rect x="132.20" y="408.80" width="5.85" height="4.20" fill="url(#dots)" stroke="#222" stroke-width="0.9"/>
<rect x="138.05" y="407.90" width="5.85" height="5.10" fill="url(#hatch)" stroke="#222" stroke-width="0.9"/>
<rect x="143.90" y="406.00" width="5.85" height="7.00" fill="#000000" stroke="#222" stroke-width="0.9"/>
<path d="M129.28 409.20V409.80M127.08 409.20H131.47" stroke="#222" stroke-width="0.9" fill="none"/>
<path d="M127.08 409.80H131.47" stroke="#222" stroke-width="0.9" fill="none"/>
<path d="M135.12 408.50V409.10M132.93 408.50H137.32" stroke="#222" stroke-width="0.9" fill="none"/>
<path d="M132.93 409.10H137.32" stroke="#222" stroke-width="0.9" fill="none"/>
<path d="M140.97 407.40V408.40M138.78 407.40H143.17" stroke="#222" stroke-width="0.9" fill="none"/>
<path d="M138.78 408.40H143.17" stroke="#222" stroke-width="0.9" fill="none"/>
<path d="M146.82 403.70V408.30M144.62 403.70H149.02" stroke="#222" stroke-width="0.9" fill="none"/>
<rect x="157.65" y="407.20" width="5.85" height="5.80" fill="#ffffff" stroke="#222" stroke-width="0.9"/>
<rect x="163.50" y="387.30" width="5.85" height="25.70" fill="url(#dots)" stroke="#222" stroke-width="0.9"/>
<rect x="169.35" y="378.00" width="5.85" height="35.00" fill="url(#hatch)" stroke="#222" stroke-width="0.9"/>
<rect x="175.20" y="375.70" width="5.85" height="37.30" fill="#000000" stroke="#222" stroke-width="0.9"/>
<path d="M160.58 406.80V407.60M158.38 406.80H162.78" stroke="#222" stroke-width="0.9" fill="none"/>
<path d="M158.38 407.60H162.78" stroke="#222" stroke-width="0.9" fill="none"/>
<path d="M166.43 376.40V398.20M164.23 376.40H168.62" stroke="#222" stroke-width="0.9" fill="none"/>
<path d="M164.23 398.20H168.62" stroke="#222" stroke-width="0.9" fill="none"/>
<path d="M172.28 365.20V390.80M170.08 365.20H174.47" stroke="#222" stroke-width="0.9" fill="none"/>
<path d="M170.08 390.80H174.47" stroke="#222" stroke-width="0.9" fill="none"/>
<path d="M178.12 357.00V394.40M175.93 357.00H180.32" stroke="#222" stroke-width="0.9" fill="none"/>
<text transform="translate(69.65,430.50) rotate(-45) scale(1.04,1)" font-size="10" text-anchor="end" >Mock</text>
<text transform="translate(100.95,430.50) rotate(-45) scale(1.04,1)" font-size="10" text-anchor="end" >sCR1</text>
<text transform="translate(132.25,430.50) rotate(-45) scale(1.04,1)" font-size="10" text-anchor="end" >LHR-A</text>
<text transform="translate(163.55,430.50) rotate(-45) scale(1.04,1)" font-size="10" text-anchor="end" >LHR-B</text>
<text transform="translate(10.00,384.60) rotate(-90) scale(1.07,1)" font-size="9.7" text-anchor="middle" >C3 deposition</text>
<text transform="translate(23.60,384.30) rotate(-90) scale(1.03,1)" font-size="9.7" text-anchor="middle" >(fluorescence)</text>
<text transform="translate(0.80,338.30) scale(1.03,1)" font-size="24.6" text-anchor="start" >E</text>
<text transform="translate(188.00,355.50) scale(1.04,1)" font-size="12" text-anchor="start" >(Grp O)</text>
<rect x="190.90" y="366.80" width="55.70" height="61.40" fill="#fff" stroke="#9a9a9a" stroke-width="1"/>
<rect x="194.70" y="372.40" width="7" height="6.8" fill="#ffffff" stroke="#333" stroke-width="0.9"/>
<text transform="translate(204.70,379.00) scale(1.06,1)" font-size="9.8" text-anchor="start" word-spacing="-1.2">1 min</text>
<rect x="194.70" y="387.70" width="7" height="6.8" fill="url(#dots)" stroke="#333" stroke-width="0.9"/>
<text transform="translate(204.70,394.30) scale(1.06,1)" font-size="9.8" text-anchor="start" word-spacing="-1.2">30 min</text>
<rect x="194.70" y="403.20" width="7" height="6.8" fill="url(#hatch)" stroke="#333" stroke-width="0.9"/>
<text transform="translate(204.70,409.80) scale(1.06,1)" font-size="9.8" text-anchor="start" word-spacing="-1.2">60 min</text>
<rect x="194.70" y="418.70" width="7" height="6.8" fill="#000000" stroke="#333" stroke-width="0.9"/>
<text transform="translate(204.70,425.30) scale(1.06,1)" font-size="9.8" text-anchor="start" word-spacing="-1.2">120 min</text>
</g>
</svg></body></html>
